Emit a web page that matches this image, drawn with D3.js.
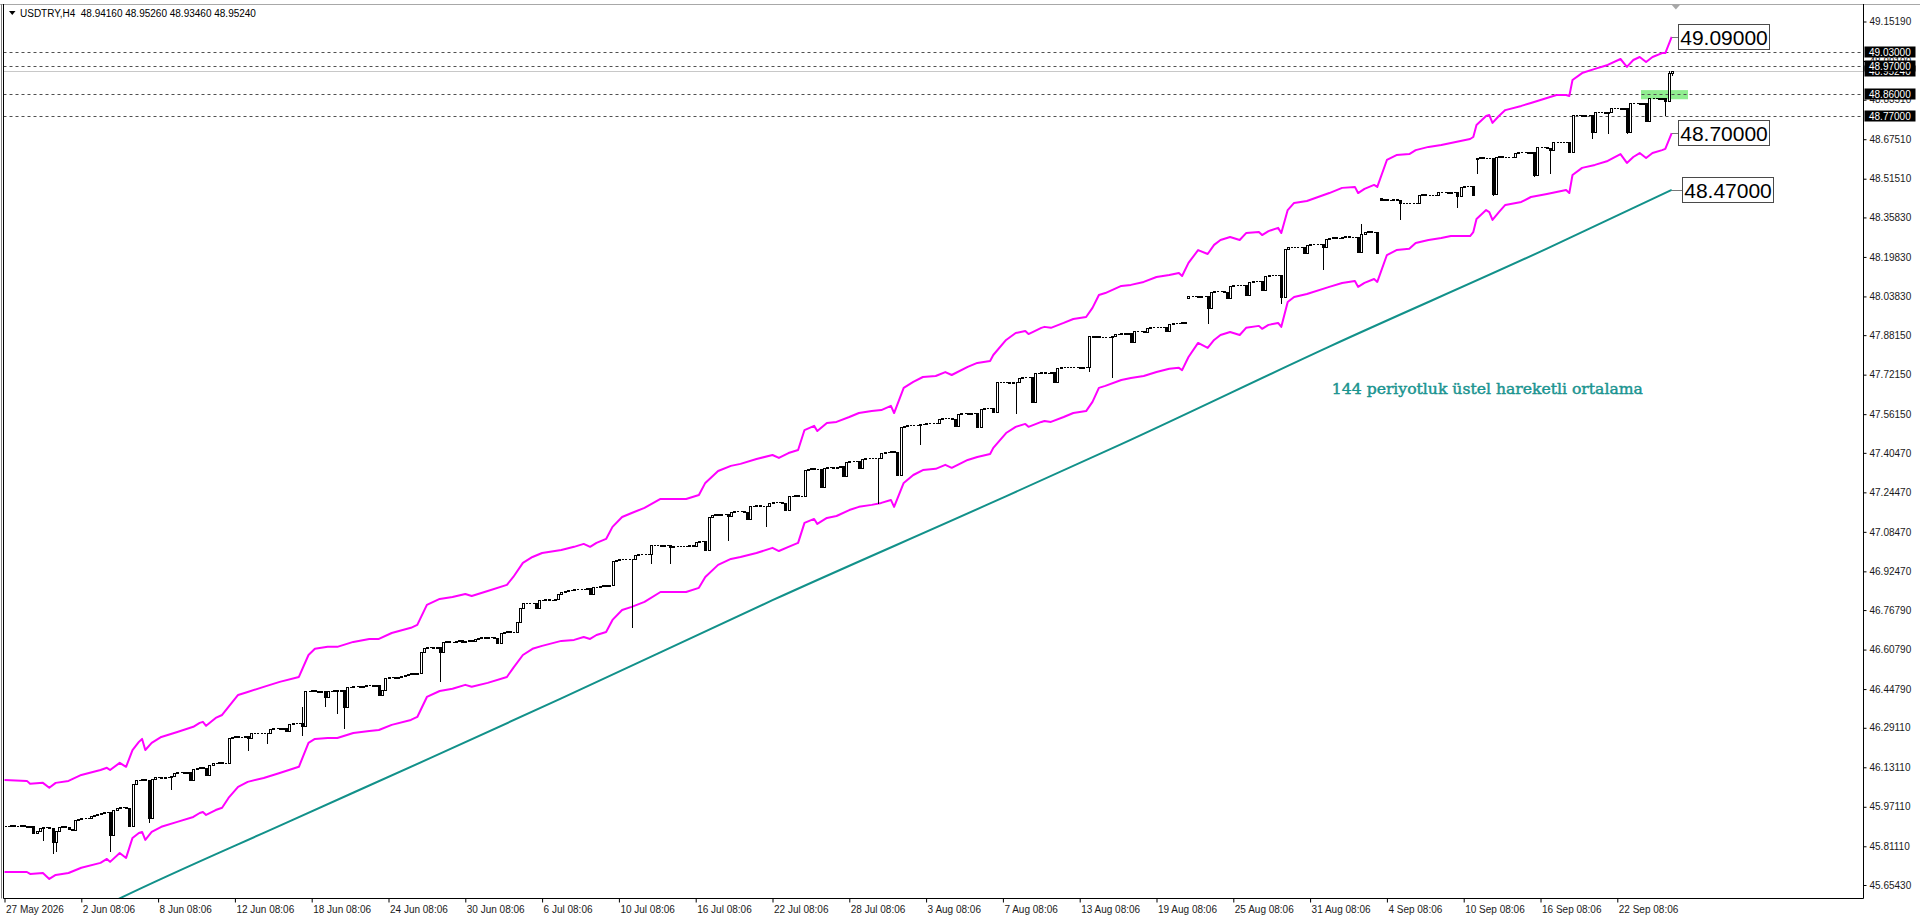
<!DOCTYPE html>
<html><head><meta charset="utf-8">
<script src="https://cdn.jsdelivr.net/npm/d3@7"></script>
<style>html,body{margin:0;padding:0;background:#fff;overflow:hidden}svg{display:block}</style>
</head><body><svg id="c" width="1920" height="918"></svg>
<script>
// ---------------- DATA ----------------
const symbolTitle = "USDTRY,H4";
const lastBarOHLC = [48.94160, 48.95260, 48.93460, 48.95240];
const firstOpen = 45.893;
// H4 closes, one line = one trading day (6 bars), bars 0..521
const closes = [
45.895,45.893,45.897,45.894,45.892,45.896,
45.893,45.890,45.892,45.865,45.872,45.884,
45.888,45.890,45.884,45.828,45.872,45.888,
45.892,45.890,45.880,45.878,45.918,45.922,
45.924,45.926,45.925,45.932,45.936,45.940,
45.945,45.948,45.950,45.855,45.960,45.968,
45.970,45.972,45.968,45.895,46.065,46.078,
46.080,46.082,46.078,45.925,46.085,46.090,
46.092,46.088,46.090,46.093,46.095,46.108,
46.110,46.112,46.108,46.110,46.080,46.125,
46.130,46.132,46.130,46.100,46.140,46.148,
46.150,46.152,46.150,46.148,46.250,46.255,
46.258,46.255,46.252,46.256,46.250,46.268,
46.272,46.270,46.268,46.272,46.270,46.285,
46.290,46.292,46.288,46.290,46.280,46.305,
46.310,46.312,46.310,46.300,46.440,46.442,
46.445,46.440,46.438,46.442,46.415,46.440,
46.442,46.445,46.440,46.445,46.375,46.455,
46.458,46.460,46.462,46.458,46.460,46.463,
46.465,46.462,46.464,46.425,46.445,46.492,
46.495,46.497,46.493,46.496,46.500,46.505,
46.510,46.512,46.508,46.512,46.600,46.615,
46.617,46.618,46.615,46.620,46.600,46.640,
46.642,46.640,46.638,46.642,46.645,46.640,
46.643,46.645,46.642,46.650,46.655,46.658,
46.655,46.660,46.657,46.655,46.635,46.675,
46.680,46.682,46.678,46.680,46.720,46.775,
46.795,46.797,46.795,46.798,46.775,46.808,
46.810,46.812,46.808,46.810,46.812,46.835,
46.840,46.845,46.848,46.850,46.852,46.855,
46.852,46.855,46.858,46.835,46.860,46.862,
46.865,46.868,46.866,46.870,46.965,46.972,
46.975,46.973,46.976,46.974,46.975,46.990,
46.995,46.997,46.993,46.996,47.030,47.030,
47.032,47.028,47.030,47.033,47.025,47.027,
47.029,47.026,47.028,47.027,47.030,47.028,
47.045,47.047,47.048,47.010,47.145,47.155,
47.157,47.155,47.158,47.156,47.150,47.166,
47.168,47.170,47.168,47.167,47.135,47.188,
47.190,47.192,47.190,47.188,47.190,47.203,
47.205,47.207,47.205,47.203,47.175,47.228,
47.230,47.232,47.230,47.228,47.335,47.340,
47.342,47.340,47.338,47.265,47.345,47.347,
47.348,47.345,47.347,47.350,47.310,47.368,
47.370,47.372,47.370,47.345,47.380,47.383,
47.385,47.382,47.384,47.385,47.405,47.408,
47.410,47.412,47.410,47.315,47.510,47.515,
47.517,47.518,47.516,47.518,47.520,47.523,
47.525,47.527,47.525,47.526,47.540,47.545,
47.547,47.545,47.543,47.512,47.562,47.565,
47.566,47.564,47.567,47.565,47.510,47.583,
47.585,47.587,47.585,47.572,47.690,47.690,
47.692,47.690,47.688,47.691,47.690,47.708,
47.710,47.712,47.710,47.610,47.728,47.730,
47.732,47.730,47.728,47.731,47.690,47.750,
47.752,47.753,47.751,47.752,47.754,47.752,
47.750,47.753,47.752,47.880,47.874,47.876,
47.874,47.872,47.875,47.873,47.880,47.885,
47.888,47.890,47.888,47.890,47.855,47.898,
47.900,47.898,47.896,47.912,47.914,47.915,
47.913,47.916,47.914,47.900,47.928,47.930,
47.932,47.930,47.933,47.930,48.040,48.042,
48.040,48.038,48.041,48.040,47.990,48.058,
48.060,48.062,48.060,48.058,48.030,48.082,
48.084,48.086,48.083,48.085,48.045,48.098,
48.100,48.102,48.100,48.065,48.122,48.125,
48.127,48.124,48.126,48.035,48.230,48.238,
48.240,48.237,48.239,48.238,48.215,48.248,
48.250,48.252,48.249,48.251,48.240,48.272,
48.275,48.277,48.274,48.276,48.280,48.282,
48.279,48.281,48.280,48.220,48.290,48.300,
48.302,48.300,48.298,48.215,48.430,48.432,
48.430,48.428,48.431,48.430,48.415,48.416,
48.418,48.415,48.417,48.416,48.450,48.452,
48.450,48.448,48.451,48.450,48.460,48.462,
48.460,48.458,48.461,48.460,48.445,48.483,
48.485,48.487,48.485,48.450,48.600,48.602,
48.600,48.598,48.601,48.455,48.604,48.606,
48.604,48.602,48.605,48.604,48.620,48.622,
48.624,48.622,48.620,48.623,48.530,48.643,
48.645,48.643,48.641,48.630,48.663,48.665,
48.662,48.664,48.663,48.625,48.773,48.775,
48.773,48.771,48.774,48.772,48.705,48.785,
48.787,48.785,48.783,48.786,48.800,48.802,
48.800,48.798,48.801,48.705,48.820,48.822,
48.820,48.818,48.821,48.750,48.842,48.844,
48.842,48.840,48.843,48.830,48.9416,48.9524
];
// bars that open with a gap: [bar, open]
const gapOpens = [[370,48.030],[430,48.435],[460,48.595]];
// long lower shadows: [bar, low]
const lowWicks = [[12,45.835],[15,45.785],[16,45.790],[33,45.790],[45,45.910],[52,46.045],[76,46.200],[82,46.230],
  [93,46.260],[100,46.380],[104,46.350],[106,46.290],[136,46.480],[196,46.700],[202,46.960],[208,46.960],
  [226,47.050],[238,47.110],[273,47.200],[286,47.440],[316,47.565],[339,47.735],[346,47.710],[376,47.930],
  [399,48.010],[412,48.150],[436,48.350],[454,48.400],[460,48.540],[465,48.450],[478,48.525],[483,48.540],
  [496,48.680],[501,48.700],[507,48.700],[519,48.772],[521,48.9346]];
// upper shadows: [bar, high]
const highWicks = [[93,46.375],[424,48.330],[520,48.950],[521,48.9526]];

// envelope bands: [bar, upper, lower]
const bandSamples = [
[0,46.080,45.707],[7,46.076,45.707],[8,46.064,45.699],[12,46.068,45.703],[14,46.048,45.679],[16,46.068,45.695],
[20,46.076,45.703],[24,46.100,45.724],[30,46.120,45.744],[32,46.129,45.760],[33,46.120,45.748],[36,46.149,45.784],
[38,46.133,45.764],[40,46.201,45.845],[42,46.234,45.865],[43,46.246,45.869],[44,46.201,45.837],[46,46.230,45.869],
[49,46.254,45.890],[54,46.274,45.910],[59,46.295,45.930],[61,46.311,45.946],[62,46.315,45.950],[63,46.299,45.938],
[66,46.331,45.958],[68,46.343,45.967],[70,46.376,46.007],[73,46.424,46.052],[76,46.436,46.072],[81,46.457,46.088],
[86,46.477,46.108],[92,46.497,46.133],[95,46.586,46.230],[97,46.611,46.246],[101,46.619,46.250],[104,46.619,46.250],
[109,46.639,46.270],[114,46.651,46.278],[117,46.651,46.282],[121,46.675,46.303],[127,46.696,46.323],[129,46.708,46.335],
[132,46.789,46.416],[136,46.813,46.440],[140,46.821,46.449],[144,46.833,46.465],[146,46.825,46.457],[151,46.845,46.473],
[157,46.870,46.497],[159,46.902,46.534],[162,46.959,46.586],[165,46.983,46.611],[168,46.999,46.623],[174,47.011,46.643],
[178,47.024,46.647],[181,47.036,46.659],[183,47.024,46.651],[185,47.040,46.667],[188,47.056,46.679],[190,47.105,46.728],
[193,47.145,46.768],[196,47.161,46.781],[200,47.182,46.801],[205,47.218,46.841],[210,47.218,46.841],[213,47.218,46.841],
[217,47.234,46.858],[219,47.283,46.902],[223,47.331,46.951],[227,47.352,46.975],[230,47.360,46.983],[235,47.380,46.999],
[240,47.396,47.020],[242,47.384,47.007],[245,47.404,47.024],[248,47.416,47.040],[250,47.497,47.121],[253,47.514,47.137],
[254,47.493,47.117],[257,47.526,47.141],[260,47.530,47.149],[264,47.550,47.173],[267,47.566,47.186],[271,47.574,47.194],
[274,47.578,47.202],[277,47.595,47.214],[278,47.566,47.186],[281,47.668,47.283],[284,47.692,47.315],[287,47.712,47.335],
[291,47.716,47.340],[294,47.732,47.356],[296,47.720,47.344],[301,47.753,47.376],[304,47.769,47.388],[308,47.777,47.400],
[309,47.801,47.425],[313,47.862,47.485],[316,47.890,47.510],[319,47.898,47.522],[320,47.886,47.510],[324,47.911,47.530],
[325,47.915,47.534],[327,47.911,47.530],[331,47.931,47.550],[334,47.947,47.566],[338,47.955,47.574],[340,47.992,47.611],
[342,48.044,47.668],[344,48.052,47.676],[349,48.081,47.700],[352,48.085,47.708],[356,48.097,47.716],[360,48.117,47.732],
[364,48.125,47.745],[367,48.133,47.749],[368,48.121,47.740],[370,48.174,47.793],[373,48.226,47.850],[376,48.210,47.830],
[378,48.247,47.862],[380,48.267,47.882],[383,48.279,47.894],[386,48.267,47.882],[388,48.295,47.911],[392,48.299,47.919],
[393,48.287,47.907],[395,48.303,47.923],[398,48.316,47.931],[399,48.295,47.915],[401,48.388,48.016],[403,48.417,48.036],
[407,48.425,48.048],[414,48.457,48.077],[418,48.478,48.093],[422,48.482,48.101],[423,48.457,48.077],[425,48.474,48.093],
[428,48.490,48.109],[429,48.482,48.097],[432,48.591,48.206],[435,48.611,48.226],[439,48.615,48.231],[441,48.631,48.255],
[445,48.644,48.267],[449,48.652,48.275],[452,48.660,48.283],[458,48.676,48.283],[459,48.684,48.299],[460,48.733,48.352],
[463,48.769,48.388],[464,48.773,48.380],[465,48.741,48.348],[467,48.769,48.380],[469,48.793,48.409],[474,48.810,48.421],
[477,48.822,48.441],[482,48.842,48.453],[485,48.854,48.461],[488,48.854,48.469],[489,48.850,48.457],[490,48.915,48.530],
[493,48.943,48.559],[497,48.960,48.571],[501,48.976,48.587],[505,49.000,48.615],[507,48.968,48.579],[509,48.996,48.603],
[511,49.008,48.619],[513,48.988,48.599],[515,49.008,48.619],[518,49.024,48.631],[519,49.024,48.636],[521,49.090,48.700]
];
// 144-period EMA: [bar, value]
const emaSamples = [[30,45.562],[36,45.600],[88,45.906],[133,46.168],[174,46.410],[240,46.808],[308,47.200],
  [349,47.440],[414,47.835],[482,48.232],[521,48.470]];

const yTickValues = [49.15190,48.99190,48.83510,48.67510,48.51510,48.35830,48.19830,48.03830,47.88150,47.72150,
  47.56150,47.40470,47.24470,47.08470,46.92470,46.76790,46.60790,46.44790,46.29110,46.13110,45.97110,45.81110,45.65430];
const xTickBars = [0,24,48,72,96,120,144,168,192,216,240,264,288,312,336,360,384,408,432,456,480,504];
const xTickLabels = ["27 May 2026","2 Jun 08:06","8 Jun 08:06","12 Jun 08:06","18 Jun 08:06","24 Jun 08:06",
  "30 Jun 08:06","6 Jul 08:06","10 Jul 08:06","16 Jul 08:06","22 Jul 08:06","28 Jul 08:06","3 Aug 08:06",
  "7 Aug 08:06","13 Aug 08:06","19 Aug 08:06","25 Aug 08:06","31 Aug 08:06","4 Sep 08:06","10 Sep 08:06",
  "16 Sep 08:06","22 Sep 08:06"];
const levelLines = [49.03, 48.97, 48.86, 48.77];
const bidPrice = 48.95240;
const zoneBars = [511.4, 526.1];
const zoneValues = [48.837, 48.874];
const endLabels = [["49.09000", 49.09], ["48.70000", 48.70], ["48.47000", 48.47]];
const emaCaption = "144 periyotluk üstel hareketli ortalama";
const emaCaptionAt = [414.8, 47.643]; // [bar, value] of caption start (baseline)

// ---------------- DRAWING ----------------
const svg = d3.select("#c");
const FONT = "'Liberation Sans', Arial, sans-serif";
const L = 3.5, R = 1863.5, T = 4, B = 898.5;
const lastBar = closes.length - 1;
const x = d3.scaleLinear().domain([0, 521]).range([4.5, 1671.7]);
const y = d3.scaleLinear().domain([45.6543, 49.1519]).range([885, 21.5]);
const fmt = d3.format(".5f");

svg.append("rect").attr("width",1920).attr("height",918).attr("fill","#fff");
svg.append("defs").append("clipPath").attr("id","plot")
  .append("rect").attr("x",L).attr("y",T).attr("width",R-L).attr("height",B-T);
const plot = svg.append("g").attr("clip-path","url(#plot)");

// green zone
plot.append("rect")
  .attr("x", x(zoneBars[0])).attr("width", x(zoneBars[1]) - x(zoneBars[0]))
  .attr("y", y(zoneValues[1])).attr("height", y(zoneValues[0]) - y(zoneValues[1]))
  .attr("fill", "#90ee90");

// bid line
const yb = Math.round(y(bidPrice)) + 0.5;
plot.append("line").attr("x1",L).attr("x2",R).attr("y1",yb).attr("y2",yb)
  .attr("stroke","#c8c8c8").attr("stroke-width",1);
// dashed level lines
plot.selectAll("line.lvl").data(levelLines).enter().append("line").attr("class","lvl")
  .attr("x1",L).attr("x2",R)
  .attr("y1",d=>Math.round(y(d))+0.5).attr("y2",d=>Math.round(y(d))+0.5)
  .attr("stroke","#505050").attr("stroke-width",1).attr("stroke-dasharray","3,3");

// bands
const bandLineU = d3.line().x(d=>x(d[0])).y(d=>y(d[1]));
const bandLineL = d3.line().x(d=>x(d[0])).y(d=>y(d[2]));
plot.append("path").attr("d", bandLineU(bandSamples)).attr("fill","none")
  .attr("stroke","#ff00ff").attr("stroke-width",2).attr("stroke-linejoin","round");
plot.append("path").attr("d", bandLineL(bandSamples)).attr("fill","none")
  .attr("stroke","#ff00ff").attr("stroke-width",2).attr("stroke-linejoin","round");

// EMA
const emaLine = d3.line().x(d=>x(d[0])).y(d=>y(d[1])).curve(d3.curveMonotoneX);
plot.append("path").attr("d", emaLine(emaSamples)).attr("fill","none")
  .attr("stroke","#12918a").attr("stroke-width",2);

// candles
const gapMap = new Map(gapOpens), lowMap = new Map(lowWicks), highMap = new Map(highWicks);
const candles = closes.map((c, i) => {
  let o = i === 0 ? firstOpen : (gapMap.has(i) ? gapMap.get(i) : closes[i-1]);
  if (i === lastBar) o = lastBarOHLC[0];
  let h = Math.max(o, c), l = Math.min(o, c);
  if (highMap.has(i)) h = Math.max(h, highMap.get(i));
  if (lowMap.has(i)) l = Math.min(l, lowMap.get(i));
  return {i, o, h, l, c};
});
const cg = plot.append("g").attr("shape-rendering","crispEdges");
candles.forEach(d => {
  const px = Math.round(x(d.i));
  const yh = Math.round(y(d.h)), yl = Math.round(y(d.l));
  const yt = Math.round(y(Math.max(d.o, d.c))), ybm = Math.round(y(Math.min(d.o, d.c)));
  if (yl > yh) cg.append("line").attr("x1",px+0.5).attr("x2",px+0.5).attr("y1",yh).attr("y2",yl+1)
      .attr("stroke","#000").attr("stroke-width",1);
  if (ybm - yt < 1) {
    cg.append("line").attr("x1",px-0.5).attr("x2",px+1.5).attr("y1",yt+0.5).attr("y2",yt+0.5)
      .attr("stroke","#000").attr("stroke-width",1);
  } else {
    cg.append("rect").attr("x",px-0.5).attr("width",2).attr("y",yt+0.5).attr("height",ybm-yt)
      .attr("fill", d.c >= d.o ? "#fff" : "#000").attr("stroke","#000").attr("stroke-width",1);
  }
});

// frame
svg.append("line").attr("x1",0).attr("x2",1920).attr("y1",T+0.5).attr("y2",T+0.5).attr("stroke","#a8a8a8");
svg.append("line").attr("x1",1.5).attr("x2",1.5).attr("y1",T).attr("y2",B).attr("stroke","#808080");
svg.append("line").attr("x1",L).attr("x2",L).attr("y1",T).attr("y2",B).attr("stroke","#000");
svg.append("line").attr("x1",R).attr("x2",R).attr("y1",T).attr("y2",B).attr("stroke","#000");
svg.append("line").attr("x1",L).attr("x2",R).attr("y1",B).attr("y2",B).attr("stroke","#000");

// y axis
const yAxis = d3.axisRight(y).tickValues(yTickValues).tickSize(3).tickPadding(3).tickFormat(fmt).tickSizeOuter(0);
const gy = svg.append("g").attr("transform",`translate(${R},0)`).call(yAxis);
gy.select(".domain").remove();
gy.selectAll("text").attr("font-family",FONT).attr("font-size","10px").attr("fill","#1a1a1a");
gy.selectAll("line").attr("stroke","#000");

// x axis
const xAxis = d3.axisBottom(x).tickValues(xTickBars).tickSize(4).tickPadding(3)
  .tickFormat((d,i)=>xTickLabels[i]).tickSizeOuter(0);
const gx = svg.append("g").attr("transform",`translate(0,${B})`).call(xAxis);
gx.select(".domain").remove();
gx.selectAll("text").attr("font-family",FONT).attr("font-size","10px").attr("fill","#1a1a1a")
  .attr("text-anchor","start").attr("x",1);
gx.selectAll("line").attr("stroke","#000");

// price boxes on axis
function axisBox(v) {
  const yy = Math.round(y(v));
  svg.append("rect").attr("x",R+1).attr("y",yy-5.5).attr("width",51).attr("height",11).attr("fill","#000");
  svg.append("text").attr("x",R+5.5).attr("y",yy+3.5).text(fmt(v))
    .attr("font-family",FONT).attr("font-size","10px").attr("fill","#fff");
}
axisBox(bidPrice);
levelLines.forEach(axisBox);

// end labels with leader lines
const lastU = bandSamples[bandSamples.length-1], lastE = emaSamples[emaSamples.length-1];
const endPoints = [[lastU[0], lastU[1], 6], [lastU[0], lastU[2], 6], [lastE[0], lastE[1], 10]];
endLabels.forEach((lab, k) => {
  const [b, v, off] = endPoints[k];
  const x0 = x(b), yy = Math.round(y(v)) + 0.5, bx = Math.round(x0 + off) + 0.5;
  svg.append("line").attr("x1",x0).attr("x2",bx).attr("y1",yy).attr("y2",yy).attr("stroke","#777");
  svg.append("rect").attr("x",bx).attr("y",yy-13).attr("width",91).attr("height",25)
    .attr("fill","#fff").attr("stroke","#4a4a4a").attr("stroke-width",1);
  svg.append("text").attr("x",bx+45.5).attr("y",yy+7.5).attr("text-anchor","middle").text(lab[0])
    .attr("font-family",FONT).attr("font-size","21px").attr("fill","#000");
});

// chart shift marker
const mx = x(522.3);
svg.append("path").attr("d",`M${mx-4},${T+1}L${mx+4},${T+1}L${mx},${T+5.5}Z`).attr("fill","#a8a8a8");

// EMA caption
svg.append("text").attr("x", x(emaCaptionAt[0])).attr("y", y(emaCaptionAt[1])).text(emaCaption)
  .attr("font-family","'DejaVu Serif', serif").attr("font-size","15.5px")
  .attr("fill","#1a9490").attr("stroke","#1a9490").attr("stroke-width",0.45)
  .attr("textLength",311).attr("lengthAdjust","spacingAndGlyphs");

// header
svg.append("path").attr("d","M9,11L15.5,11L12.25,15Z").attr("fill","#000");
svg.append("text").attr("x",20).attr("y",17).attr("xml:space","preserve").style("white-space","pre")
  .text(symbolTitle + "  " + lastBarOHLC.map(fmt).join(" "))
  .attr("font-family",FONT).attr("font-size","10px").attr("fill","#000");
</script></body></html>
